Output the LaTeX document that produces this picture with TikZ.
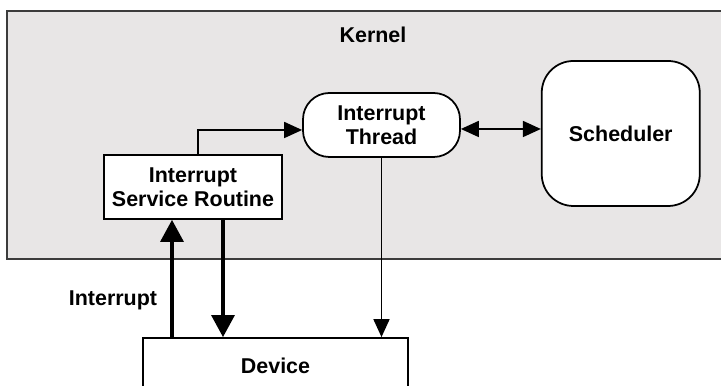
\documentclass[tikz,border=0pt]{standalone}
\usepackage{fontspec}
\setmainfont{Liberation Sans}
\usepackage{tikz}
\usetikzlibrary{positioning,arrows.meta,calc}
\definecolor{kernelgray}{RGB}{232,230,230}
\definecolor{framegray}{RGB}{60,60,60}
\tikzset{
  thinarr/.style={-{Triangle[length=3.6mm,width=3.2mm]},line width=1pt},
  thinbiarr/.style={{Triangle[length=3.6mm,width=3.2mm]}-{Triangle[length=3.6mm,width=3.2mm]},line width=1pt},
  thickarr/.style={-{Triangle[length=4.4mm,width=4.6mm]},line width=1.8pt},
  block/.style={draw=black,fill=white,line width=1pt,align=center,inner sep=2pt},
  roundblock/.style={block,rounded corners=15pt},
  kernelbox/.style={draw=framegray,fill=kernelgray,line width=1.2pt,inner sep=0pt}
}

\begin{document}
\begin{tikzpicture}[every node/.style={font=\fontsize{12.2}{13.7}\selectfont\bfseries}]
\useasboundingbox (0,0) rectangle (14.42,7.72);
\node[kernelbox, anchor=north west, minimum width=14.6cm, minimum height=4.96cm] (kernel) at (0.12,7.52) {};
\node (klabel) at (7.46,7.02) {Kernel};

\node[roundblock, minimum width=3.14cm, minimum height=1.28cm] (thread) at (7.63,5.22) {Interrupt\\Thread};
\node[roundblock, rounded corners=18pt, minimum width=3.16cm, minimum height=2.9cm,
      right=1.6cm of thread, yshift=-0.17cm] (sched) {Scheduler};
\node[block, minimum width=3.56cm, minimum height=1.28cm] (isr) at (3.86,3.98) {Interrupt\\Service Routine};
\node[block, minimum width=5.3cm, minimum height=1.1cm] (dev) at (5.51,0.41) {Device};
\node (intlabel) at (2.26,1.72) {Interrupt};

\draw[thinarr] ([xshift=0.1cm]isr.north) |- ([yshift=-0.1cm]thread.west);
\draw[thinbiarr] ([yshift=-0.08cm]thread.east) -- ([yshift=-0.08cm]thread.east -| sched.west);
\draw[thinarr] (thread.south) -- (thread.south |- dev.north);
\draw[thickarr] ([xshift=-0.42cm]isr.south |- dev.north) -- ([xshift=-0.42cm]isr.south);
\draw[thickarr] ([xshift=0.6cm]isr.south) -- ([xshift=0.6cm]isr.south |- dev.north);
\end{tikzpicture}
\end{document}
